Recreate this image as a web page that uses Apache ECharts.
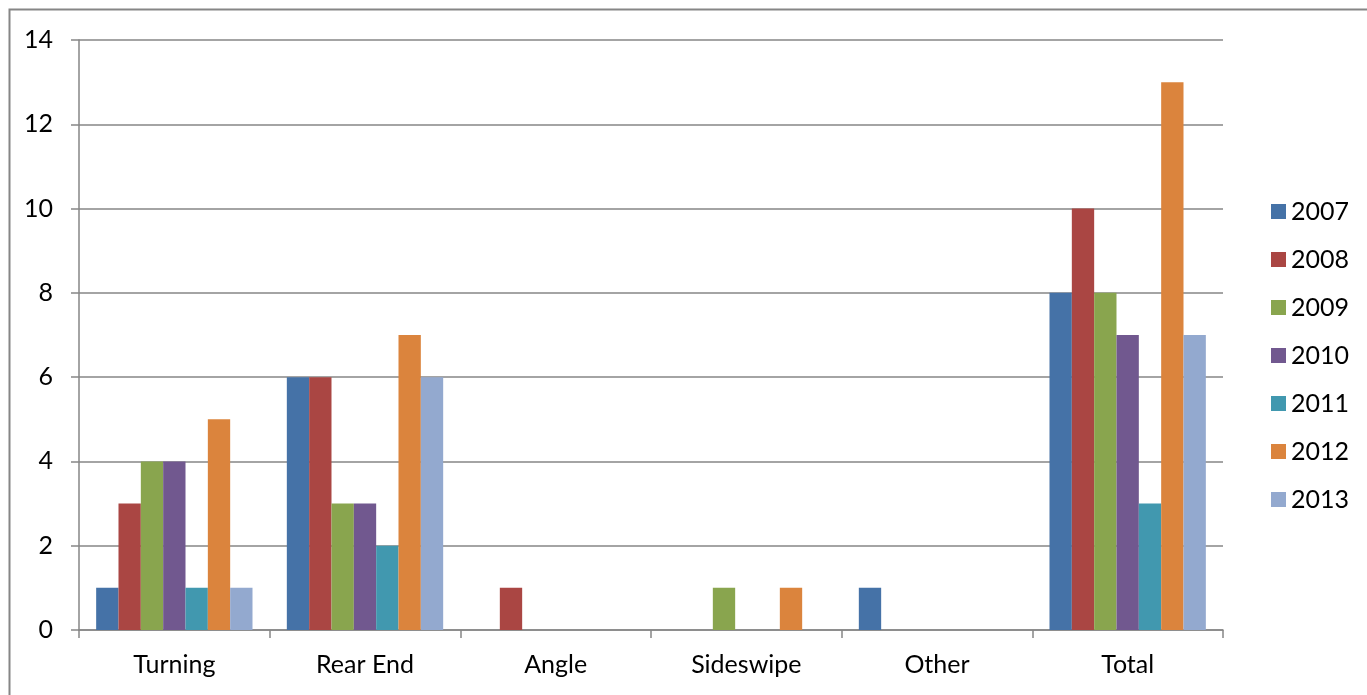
<!DOCTYPE html>
<html>
<head>
<meta charset="utf-8">
<script src="https://cdn.jsdelivr.net/npm/echarts@6/dist/echarts.min.js"></script>
<style>html,body{margin:0;padding:0;background:#fff}#c{width:1367px;height:695px}</style>
</head>
<body>
<div id="c"></div>
<script>
var categories = ['Turning', 'Rear End', 'Angle', 'Sideswipe', 'Other', 'Total'];
var seriesNames = ['2007', '2008', '2009', '2010', '2011', '2012', '2013'];
var v2007 = [1, 6, 0, 0, 1, 8];
var v2008 = [3, 6, 1, 0, 0, 10];
var v2009 = [4, 3, 0, 1, 0, 8];
var v2010 = [4, 3, 0, 0, 0, 7];
var v2011 = [1, 2, 0, 0, 0, 3];
var v2012 = [5, 7, 0, 1, 0, 13];
var v2013 = [1, 6, 0, 0, 0, 7];
var yTicks = [0, 2, 4, 6, 8, 10, 12, 14];

var values = [v2007, v2008, v2009, v2010, v2011, v2012, v2013];
var colors = ['#4572A7', '#AA4643', '#89A54E', '#71588F', '#4198AF', '#DB843D', '#93A9CF'];
var font = 'Lato, "Open Sans", sans-serif';

var chart = echarts.init(document.getElementById('c'));
chart.setOption({
  animation: false,
  color: colors,
  textStyle: { fontFamily: font },
  graphic: [{
    type: 'rect', silent: true,
    shape: { x: 9.5, y: 9.5, width: 1500, height: 800 },
    style: { fill: 'none', stroke: '#868686', lineWidth: 2 }
  }],
  grid: { left: 79, right: 144, top: 40, bottom: 65, containLabel: false },
  legend: {
    orient: 'vertical', left: 1266, top: 194,
    itemWidth: 15, itemHeight: 15, itemGap: 23,
    icon: 'rect',
    data: seriesNames,
    textStyle: { fontFamily: font, fontSize: 25, color: '#000', lineHeight: 25 }
  },
  xAxis: {
    type: 'category', data: categories,
    axisLine: { lineStyle: { color: '#868686', width: 1.5 } },
    axisTick: { show: true, length: 8, lineStyle: { color: '#868686', width: 1.5 } },
    axisLabel: { fontFamily: font, fontSize: 25, color: '#000', margin: 22 }
  },
  yAxis: {
    type: 'value', min: yTicks[0], max: yTicks[yTicks.length - 1], interval: 2,
    axisLine: { show: true, lineStyle: { color: '#868686', width: 1.5 } },
    axisTick: { show: true, length: 8, lineStyle: { color: '#868686', width: 1.5 } },
    splitLine: { lineStyle: { color: '#868686', width: 1.5 } },
    axisLabel: { fontFamily: font, fontSize: 25, color: '#000', margin: 26 }
  },
  series: seriesNames.map(function (n, i) {
    return {
      name: n, type: 'bar', data: values[i],
      barGap: '0%', barCategoryGap: '18%',
      itemStyle: { color: colors[i], borderWidth: 0 }
    };
  })
});
</script>
</body>
</html>
